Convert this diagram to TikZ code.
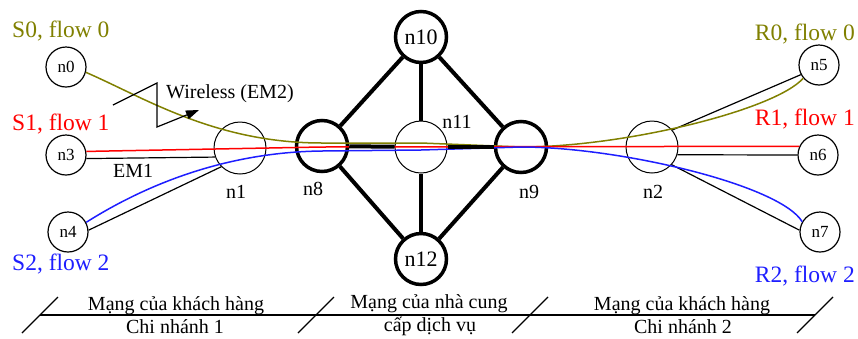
\documentclass[tikz,border=0pt]{standalone}
\usepackage{fontspec}
\setmainfont{Liberation Serif}
\usepackage{xcolor}
\usepackage{tikz}
\usetikzlibrary{arrows.meta,calc}

\definecolor{flowzero}{RGB}{128,128,0}
\definecolor{flowone}{RGB}{255,0,0}
\definecolor{flowtwo}{RGB}{30,30,255}

\begin{document}
\begin{tikzpicture}[
  x=1pt, y=-1pt,
  host/.style={circle, draw, line width=1.2pt, minimum size=40pt, inner sep=0pt,
               font=\fontsize{17}{17}\selectfont},
  edgert/.style={circle, draw, line width=1pt, minimum size=52pt, inner sep=0pt},
  core/.style={circle, draw, line width=3.5pt, minimum size=51pt, inner sep=0pt,
               font=\fontsize{22}{22}\selectfont},
  lbl/.style={font=\fontsize{20}{20}\selectfont, inner sep=0pt},
  flowlbl/.style={font=\fontsize{23.5}{23.5}\selectfont, inner sep=0pt},
  link/.style={line width=1.2pt},
  trunk/.style={line width=4pt},
  flow/.style={line width=1.5pt}
]
\useasboundingbox (0,0) rectangle (858,338);

% hosts
\node[host] (n0) at (66,67)  {n0};
\node[host] (n3) at (66,155) {n3};
\node[host] (n4) at (68,232) {n4};
\node[host] (n5) at (819,65)  {n5};
\node[host] (n6) at (818,155) {n6};
\node[host] (n7) at (820,232) {n7};

% edge routers and provider core
\node[edgert] (n1)  at (240,148) {};
\node[edgert] (n2)  at (652,147) {};
\node[edgert] (n11) at (421,147) {};
\node[core]   (n8)  at (322,146) {};
\node[core]   (n9)  at (521,147) {};
\node[core]   (n10) at (421,37)  {n10};
\node[core]   (n12) at (421,259) {n12};

% access links
\draw[link] (n3.-10) -- (n1.-160);
\draw[link] (n4.5)   -- (n1.-135);
\draw[link] (n2.40)  -- (n5.-152);
\draw[link] (n2.-17) -- (n6.west);
\draw[link] (n2.-42) -- (n7.175);

% flows
\draw[flow, flowzero] (n0.-15) .. controls (145,98) and (215,143) .. ([yshift=3pt]n8.center)
  -- ([yshift=4pt]n11.center) -- (n9.center)
  .. controls (625,147) and (775,110) .. (n5.-140);
\draw[flow, flowone] (n3.10) -- ([yshift=-1pt]n8.center) -- (n6.155);
\draw[flow, flowtwo] (n4.28) .. controls (150,182) and (230,152) .. ([yshift=-5pt]n8.center)
  -- ([yshift=-3pt]n11.center) -- (n9.center)
  .. controls (620,147) and (780,185) .. (n7.150);

% provider links
\foreach \a/\b in {n10/n8, n10/n11, n10/n9, n12/n8, n12/n11, n12/n9, n8/n11, n11/n9}
  \draw[trunk] (\a) -- (\b);

% wireless symbol
\draw[link, -{Triangle[length=13pt,width=9pt]}] (113,105) -- (157,83) -- (157,127) -- (199,110);
\node[lbl, anchor=base west] (wl) at (166,98) {Wireless (EM2)};
\node[lbl, anchor=base west] (em1) at (113,177) {EM1};

% router labels
\node[lbl, anchor=base] (ln1)  at (236,198) {n1};
\node[lbl, anchor=base] (ln8)  at (313,195) {n8};
\node[lbl, anchor=base] (ln9)  at (529,198) {n9};
\node[lbl, anchor=base] (ln2)  at (653,198) {n2};
\node[lbl, anchor=base] (ln11) at (457,128) {n11};

% flow labels
\node[flowlbl, flowzero, anchor=base west] (s0) at (12,37)  {S0, flow 0};
\node[flowlbl, flowone,  anchor=base west] (s1) at (12,130) {S1, flow 1};
\node[flowlbl, flowtwo,  anchor=base west] (s2) at (12,270) {S2, flow 2};
\node[flowlbl, flowzero, anchor=base east] (r0) at (855,40)  {R0, flow 0};
\node[flowlbl, flowone,  anchor=base east] (r1) at (855,125) {R1, flow 1};
\node[flowlbl, flowtwo,  anchor=base east] (r2) at (855,282) {R2, flow 2};

% network domains
\draw[link] (40,315) -- (815,315);
\foreach \x in {22,298,512,797}
  \draw[link] (\x,333) -- ++(36,-36);
\node[lbl, anchor=base] (d1a) at (176,310) {Mạng của khách hàng};
\node[lbl, anchor=base] (d1b) at (175,333) {Chi nhánh 1};
\node[lbl, anchor=base] (d2a) at (429,308) {Mạng của nhà cung};
\node[lbl, anchor=base] (d2b) at (430,331) {cấp dịch vụ};
\node[lbl, anchor=base] (d3a) at (682,310) {Mạng của khách hàng};
\node[lbl, anchor=base] (d3b) at (683,333) {Chi nhánh 2};
\end{tikzpicture}
\end{document}
